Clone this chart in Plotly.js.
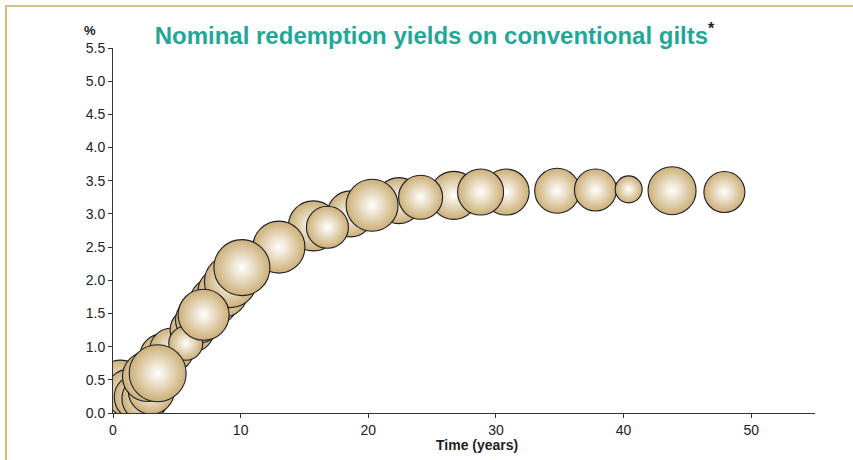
<!DOCTYPE html>
<html>
<head>
<meta charset="utf-8">
<script src="https://cdn.plot.ly/plotly-3.0.1.min.js"></script>
<style>
  html, body { margin: 0; padding: 0; background: #fff; }
  #frame { position: absolute; left: 5px; top: 5px; width: 860px; height: 470px;
           border-top: 2px solid #d6c08e; border-left: 2px solid #dcb878; }
  #chart { position: absolute; left: 0; top: 0; width: 853px; height: 460px; }
</style>
</head>
<body>
<div id="frame"></div>
<div id="chart"></div>
<script>
// Time to maturity (years), drawn back-to-front
var maturity = [0.6, 1.3, 1.9, 2.5, 3.0, 2.7, 3.9, 4.6, 6.2, 6.7, 7.9, 8.6, 9.2, 15.7, 18.6, 22.4, 26.7, 30.8,
                5.7, 3.5, 7.1, 13.0, 10.1, 16.8, 20.3, 24.1, 28.8, 34.8, 37.8, 40.4, 43.8, 47.9];
// Nominal redemption yield (%)
var yieldPct = [0.42, 0.30, 0.24, 0.22, 0.33, 0.55, 0.85, 0.95, 1.25, 1.40, 1.68, 1.82, 1.98, 2.82, 3.00, 3.20, 3.28, 3.33,
                1.05, 0.60, 1.48, 2.50, 2.19, 2.80, 3.13, 3.25, 3.33, 3.35, 3.36, 3.37, 3.35, 3.33];
// Bubble size (relative amount)
var bubbleSize = [50, 48, 46, 46, 46, 50, 46, 44, 44, 46, 48, 50, 52, 50, 46, 46, 48, 46,
                  34, 57, 51, 52, 56, 42, 52, 44, 46, 45, 42, 27, 48, 41];

var yTicks = [0, 0.5, 1, 1.5, 2, 2.5, 3, 3.5, 4, 4.5, 5, 5.5];
var xTicks = [0, 10, 20, 30, 40, 50];

var trace = {
  type: 'scatter',
  mode: 'markers',
  x: maturity,
  y: yieldPct,
  hoverinfo: 'x+y',
  marker: {
    size: bubbleSize,
    sizemode: 'diameter',
    color: '#ccaf76',
    opacity: 1,
    gradient: { type: 'radial', color: '#ffffff' },
    line: { color: '#1c1c2c', width: 1.1 }
  }
};

var fontFam = 'Liberation Sans, Arial, Helvetica, sans-serif';

var layout = {
  width: 853,
  height: 460,
  margin: { l: 113, r: 38, t: 48, b: 47, pad: 0 },
  paper_bgcolor: 'rgba(0,0,0,0)',
  plot_bgcolor: 'rgba(0,0,0,0)',
  showlegend: false,
  font: { family: fontFam, color: '#222', size: 14 },
  title: {
    text: 'Nominal redemption yields on conventional gilts<sup><span style="color:#222;font-size:16px">*</span></sup>',
    font: { family: fontFam, size: 24, color: '#1fa898', weight: 'bold' },
    xref: 'paper', x: 0.458, xanchor: 'center',
    yref: 'container', y: 0.922, yanchor: 'middle'
  },
  xaxis: {
    range: [0, 55],
    tickvals: xTicks,
    ticktext: xTicks.map(String),
    showgrid: false,
    zeroline: false,
    showline: true,
    linecolor: '#333',
    linewidth: 1,
    ticks: 'outside',
    ticklen: 4,
    tickcolor: '#333',
    tickfont: { family: fontFam, size: 14, color: '#222' },
    fixedrange: true
  },
  yaxis: {
    range: [0, 5.5],
    tickvals: yTicks,
    ticktext: yTicks.map(function (v) { return v.toFixed(1); }),
    showgrid: false,
    zeroline: false,
    showline: true,
    linecolor: '#333',
    linewidth: 1,
    ticks: 'outside',
    ticklen: 4,
    tickcolor: '#333',
    tickfont: { family: fontFam, size: 14, color: '#222' },
    fixedrange: true
  },
  annotations: [
    { text: '<b>%</b>', xref: 'paper', yref: 'paper', x: -0.033, y: 1.049,
      xanchor: 'center', yanchor: 'middle', showarrow: false,
      font: { family: fontFam, size: 13, color: '#222' } },
    { text: '<b>Time (years)</b>', xref: 'paper', yref: 'paper', x: 0.518, y: -0.088,
      xanchor: 'center', yanchor: 'middle', showarrow: false,
      font: { family: fontFam, size: 14, color: '#222' } }
  ]
};

Plotly.newPlot('chart', [trace], layout, { displayModeBar: false, staticPlot: true });
</script>
</body>
</html>
